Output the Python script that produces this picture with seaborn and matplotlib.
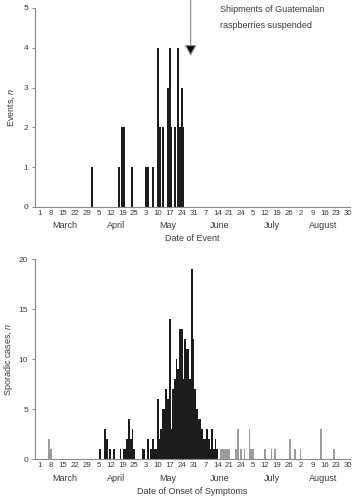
import numpy as np
import pandas as pd
import matplotlib
matplotlib.use('Agg')
import matplotlib.pyplot as plt
import seaborn as sns

# days counted from 1 March
event_day = [31, 47, 49, 50, 55, 63, 64, 67, 70, 71, 73, 76, 77, 78, 80, 82, 83, 84, 85]
event_n   = [1, 1, 2, 2, 1, 1, 1, 1, 4, 2, 2, 3, 4, 2, 2, 4, 2, 3, 2]

outbreak_day = [36, 39, 40, 42, 44, 48, 50, 51, 52, 53, 54, 55, 56,
                61, 62, 64, 66, 67, 68, 69, 70, 71, 72, 73, 74, 75, 76, 77, 78, 79,
                80, 81, 82, 83, 84, 85, 86, 87, 88, 89, 90, 91, 92, 93, 94, 95, 96,
                97, 98, 99, 100, 101, 102, 103, 104, 105]
outbreak_n   = [1, 3, 2, 1, 1, 1, 1, 1, 2, 4, 2, 3, 1,
                1, 1, 2, 1, 2, 1, 1, 6, 2, 3, 5, 5, 7, 6, 14, 3, 7,
                8, 10, 9, 13, 13, 8, 12, 11, 11, 8, 19, 12, 7, 5, 4, 4, 3,
                2, 2, 3, 2, 1, 3, 1, 2, 1]

other_day = [6, 7, 107, 108, 109, 110, 111, 112, 116, 117, 119, 121, 124, 125, 126,
             133, 137, 139, 148, 151, 154, 166, 174]
other_n   = [2, 1, 1, 1, 1, 1, 1, 1, 1, 3, 1, 1, 3, 1, 1,
             1, 1, 1, 2, 1, 1, 3, 1]

tick_labels = ['1', '8', '15', '22', '29', '5', '12', '19', '25', '3', '10', '17', '24', '31',
               '7', '14', '21', '24', '5', '12', '19', '26', '2', '9', '16', '23', '30']
months = ['March', 'April', 'May', 'June', 'July', 'August']
month_len = [31, 30, 31, 30, 31, 30]
suspend_day = 89.3

sns.set_style('ticks')
plt.rcParams['font.family'] = ['Liberation Sans', 'DejaVu Sans']
plt.rcParams['mathtext.fontset'] = 'custom'
plt.rcParams['mathtext.rm'] = 'Liberation Sans'
plt.rcParams['mathtext.it'] = 'Liberation Sans:italic'

BLACK = '#1c1c1c'
GREY = '#9c9c9c'
SPINE = '#8a8a8a'
TXT = '#3a3a3a'

fig = plt.figure(figsize=(3.54, 5.0), dpi=100)
ax1 = fig.add_axes([35/354, 1-207/500, 315/354, 199/500])
ax2 = fig.add_axes([35/354, 1-459.3/500, 315/354, 200/500])

df1 = pd.DataFrame({'day': event_day, 'n': event_n})
sns.barplot(data=df1, x='day', y='n', native_scale=True, color=BLACK, saturation=1,
            width=1.15, linewidth=0, errorbar=None, ax=ax1)

df2 = pd.concat([pd.DataFrame({'day': outbreak_day, 'n': outbreak_n, 'kind': 'outbreak'}),
                 pd.DataFrame({'day': other_day, 'n': other_n, 'kind': 'other'})])
sns.barplot(data=df2, x='day', y='n', hue='kind', native_scale=True, dodge=False,
            palette={'outbreak': BLACK, 'other': GREY}, saturation=1, width=1.05,
            linewidth=0, errorbar=None, legend=False, ax=ax2)

starts = np.cumsum([0] + month_len[:-1])
mids = starts + np.array(month_len) / 2 - 0.5

for ax, ymax, step, xlab in [(ax1, 5, 1, 'Date of Event'),
                             (ax2, 20, 5, 'Date of Onset of Symptoms')]:
    ax.set_xlim(-2.4, 183.2)
    ax.set_ylim(0, ymax)
    ax.set_yticks(np.arange(0, ymax + 1, step))
    ax.set_xticks(range(0, 183, 7))
    ax.set_xticklabels(tick_labels)
    ax.tick_params(axis='x', length=0, pad=2, labelsize=5.6, colors=TXT)
    ax.tick_params(axis='y', length=2.5, width=0.7, pad=2.5, labelsize=6, colors=TXT, color=SPINE)
    for s in ['top', 'right']:
        ax.spines[s].set_visible(False)
    for s in ['left', 'bottom']:
        ax.spines[s].set_color(SPINE)
        ax.spines[s].set_linewidth(0.8)
    for m, xm in zip(months, mids):
        ax.text(xm, -0.094, m, transform=ax.get_xaxis_transform(), ha='center', va='center',
                fontsize=6.5, color=TXT)
    ax.set_xlabel(xlab, fontsize=6.5, color=TXT)
    ax.xaxis.set_label_coords(0.5, -0.137)

ax1.set_ylabel('Events, $\\it{n}$', fontsize=6.5, color=TXT)
ax2.set_ylabel('Sporadic cases, $\\it{n}$', fontsize=6.5, color=TXT)
ax1.yaxis.set_label_coords(-0.058, 0.5)
ax2.yaxis.set_label_coords(-0.062, 0.5)

ax1.annotate('', xy=(suspend_day, 3.8), xytext=(suspend_day, 5.25),
             arrowprops=dict(arrowstyle='-|>,head_length=0.65,head_width=0.36',
                             ec=SPINE, fc='black', lw=0.8, mutation_scale=10,
                             shrinkA=0, shrinkB=0),
             annotation_clip=False)
fig.text(220/354, 1-17/500, 'Shipments of Guatemalan\nraspberries suspended',
         ha='left', va='center', fontsize=6.5, color=TXT, linespacing=2.0)

fig.savefig('out.png', dpi=100)
